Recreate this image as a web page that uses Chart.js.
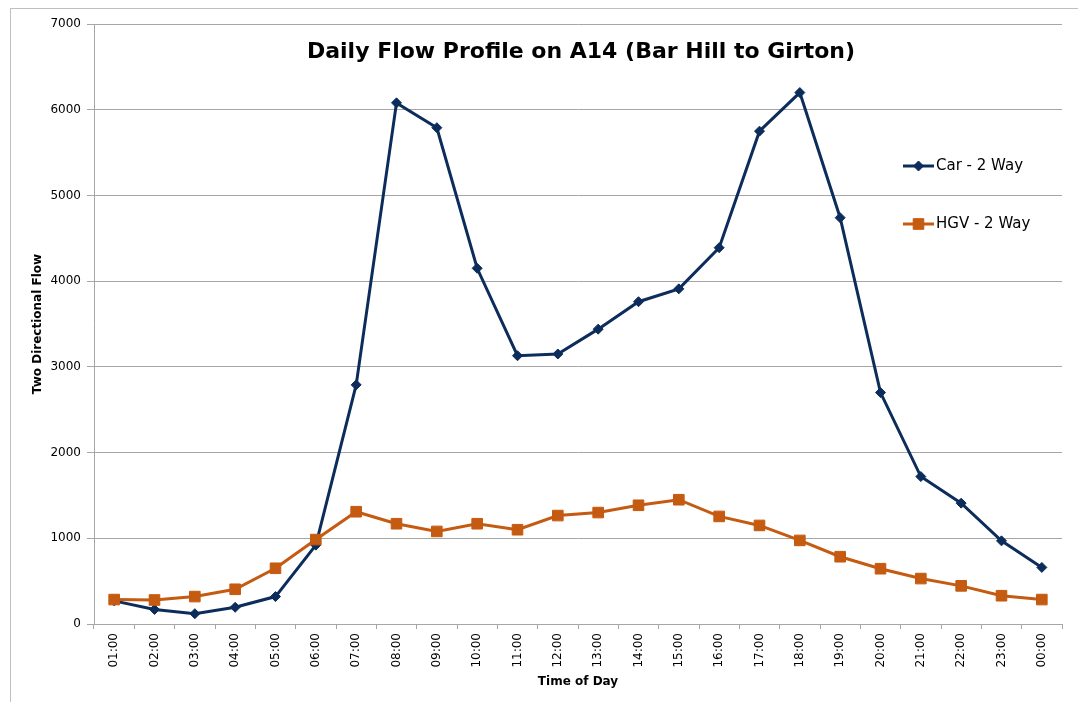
<!DOCTYPE html>
<html>
<head>
<meta charset="utf-8">
<title>Daily Flow Profile on A14</title>
<script src="https://cdn.jsdelivr.net/npm/chart.js@4.4.1/dist/chart.umd.min.js"></script>
<style>
html, body { margin: 0; padding: 0; background: #fff; }
#wrap { position: relative; width: 1078px; height: 702px; overflow: hidden; }
#frame { position: absolute; left: 10px; top: 8px; right: -2px; bottom: -2px; border-left: 1px solid #bfbfbf; border-top: 1px solid #bfbfbf; }
#chart { position: absolute; left: 0; top: 0; }
</style>
</head>
<body>
<div id="wrap">
	<div id="frame"></div>
	<canvas id="chart" width="1078" height="702"></canvas>
</div>
<script>
// hourly two-way counts
var hours = ['01:00','02:00','03:00','04:00','05:00','06:00','07:00','08:00','09:00','10:00','11:00','12:00',
	'13:00','14:00','15:00','16:00','17:00','18:00','19:00','20:00','21:00','22:00','23:00','00:00'];
var carFlow = [270,170,120,195,320,920,2790,6080,5790,4150,3130,3150,3440,3760,3910,4390,5750,6200,4740,2700,1720,1410,970,660];
var hgvFlow = [285,280,320,405,650,985,1310,1170,1080,1170,1100,1265,1300,1385,1450,1255,1150,975,785,645,530,445,330,285];
var yTicks = [0,1000,2000,3000,4000,5000,6000,7000];

var chartTitle = 'Daily Flow Profile on A14 (Bar Hill to Girton)';
var FONT = "'DejaVu Sans', Verdana, sans-serif";
var GRID = '#a6a6a6';

// title sits inside the plot area
var titlePlugin = {
	id: 'innerTitle',
	afterDraw: function(chart) {
		var ctx = chart.ctx, a = chart.chartArea;
		ctx.save();
		ctx.font = 'bold 22px ' + FONT;
		ctx.fillStyle = '#000';
		ctx.textAlign = 'center';
		ctx.textBaseline = 'middle';
		ctx.fillText(chartTitle, (a.left + a.right) / 2 + 3, a.top + 28);
		ctx.restore();
	}
};

// legend stacked on the right, over the plot
var legendPlugin = {
	id: 'innerLegend',
	afterDraw: function(chart) {
		var ctx = chart.ctx, a = chart.chartArea;
		var x0 = a.right - 159, y0 = a.top + 142;
		chart.data.datasets.forEach(function(ds, i) {
			var y = y0 + i * 58;
			ctx.save();
			ctx.strokeStyle = ds.borderColor;
			ctx.fillStyle = ds.backgroundColor;
			ctx.lineWidth = 3;
			ctx.beginPath();
			ctx.moveTo(x0, y);
			ctx.lineTo(x0 + 31, y);
			ctx.stroke();
			ctx.lineWidth = 1;
			Chart.helpers.drawPoint(ctx, {
				pointStyle: ds.pointStyle,
				radius: ds.pointRadius,
				borderWidth: 1
			}, x0 + 15.5, y);
			ctx.fillStyle = '#000';
			ctx.font = '15px ' + FONT;
			ctx.textAlign = 'left';
			ctx.textBaseline = 'middle';
			ctx.fillText(ds.label, x0 + 33, y);
			ctx.restore();
		});
	}
};

new Chart(document.getElementById('chart'), {
	type: 'line',
	data: {
		labels: hours,
		datasets: [
			{
				label: 'Car - 2 Way',
				data: carFlow,
				borderColor: '#0c2d5b',
				backgroundColor: '#0c2d5b',
				borderWidth: 3,
				pointStyle: 'rectRot',
				pointRadius: 5,
				pointBorderWidth: 1,
				lineTension: 0,
				fill: false,
				order: 1
			},
			{
				label: 'HGV - 2 Way',
				data: hgvFlow,
				borderColor: '#c55a11',
				backgroundColor: '#c55a11',
				borderWidth: 3,
				pointStyle: 'rect',
				pointRadius: 7.5,
				pointBorderWidth: 1,
				lineTension: 0,
				fill: false,
				order: 0
			}
		]
	},
	options: {
		responsive: false,
		animation: false,
		layout: { padding: { left: 0, top: 24, right: 16, bottom: 0 } },
		plugins: {
			legend: { display: false },
			tooltip: { enabled: false }
		},
		scales: {
			x: {
				offset: true,
				afterFit: function(s) { s.height = 78; },
				grid: {
					offset: true,
					drawOnChartArea: false,
					drawTicks: true,
					tickLength: 5,
					color: GRID
				},
				border: { color: GRID, width: 1 },
				ticks: {
					autoSkip: false,
					minRotation: 90,
					maxRotation: 90,
					padding: 4,
					color: '#000',
					font: { family: FONT, size: 12 }
				},
				title: {
					display: true,
					text: 'Time of Day',
					color: '#000',
					font: { family: FONT, size: 12, weight: 'bold' },
					padding: { top: 0, bottom: 13 }
				}
			},
			y: {
				min: 0,
				max: 7000,
				afterFit: function(s) { s.width = 94; },
				afterBuildTicks: function(s) {
					s.ticks = yTicks.map(function(v) { return { value: v }; });
				},
				grid: {
					color: GRID,
					tickLength: 7,
					lineWidth: 1
				},
				border: { color: GRID, width: 1 },
				ticks: {
					padding: 6,
					color: '#000',
					font: { family: FONT, size: 12 },
					callback: function(v) { return String(v); }
				},
				title: {
					display: true,
					text: 'Two Directional Flow',
					color: '#000',
					font: { family: FONT, size: 12, weight: 'bold' },
					padding: { top: 31, bottom: 0 }
				}
			}
		}
	},
	plugins: [titlePlugin, legendPlugin]
});
</script>
</body>
</html>
